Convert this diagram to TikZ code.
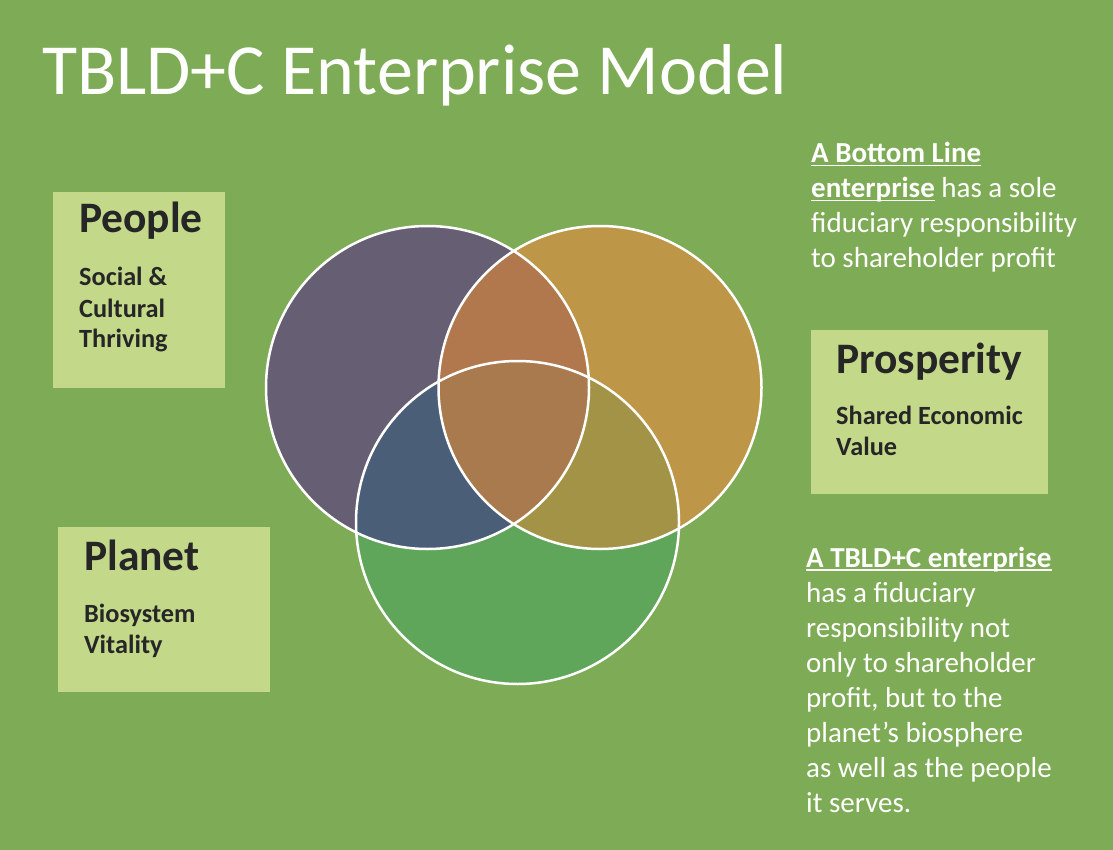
\documentclass[tikz,border=0pt]{standalone}
\usepackage{fontspec}
\setmainfont{Carlito}
\definecolor{slidegreen}{HTML}{7EAB55}
\definecolor{boxgreen}{HTML}{C4D88A}
\definecolor{inkgray}{HTML}{262626}
\definecolor{peoplefill}{HTML}{665F74}
\definecolor{prospfill}{HTML}{BE9647}
\definecolor{planetfill}{HTML}{5FA65B}
\definecolor{ppfill}{HTML}{B2784D}
\definecolor{plfill}{HTML}{4B5E78}
\definecolor{prfill}{HTML}{A39347}
\definecolor{allfill}{HTML}{A97A4D}
\newsavebox{\keybox}
\newcommand{\keyline}[1]{\sbox{\keybox}{#1}\rlap{\rule[-3.5pt]{\wd\keybox}{1.6pt}}\usebox{\keybox}}
\tikzset{
  labelbox/.style={fill=boxgreen, draw=none, anchor=north west, inner sep=0pt},
  headtxt/.style={anchor=base west, inner sep=0pt, text=inkgray, font=\bfseries\fontsize{43.5}{50}\selectfont},
  subtxt/.style={anchor=base west, inner sep=0pt, text=inkgray, font=\bfseries\fontsize{26.3}{31}\selectfont},
  notetxt/.style={anchor=base west, inner sep=0pt, text=white, font=\fontsize{29}{35}\selectfont},
  venn/.style={draw=white, line width=2.5pt}
}
\begin{document}
\begin{tikzpicture}[x=1pt,y=-1pt]
        \fill[slidegreen] (0,0) rectangle (1113,850);
        \useasboundingbox (0,0) rectangle (1113,850);

        \node[anchor=base west, inner sep=0pt, text=white, font=\fontsize{72}{80}\selectfont] (title) at (42,95) {TBLD+C Enterprise Model};

        \coordinate (cP) at (427.5,387.5);
        \coordinate (cR) at (600,387.5);
        \coordinate (cG) at (517.5,522.5);

        \fill[peoplefill] (cP) circle (161.5pt);
        \fill[prospfill]  (cR) circle (161.5pt);
        \fill[planetfill] (cG) circle (161.5pt);
        \begin{scope}
            \clip (cP) circle (161.5pt);
            \fill[ppfill] (cR) circle (161.5pt);
            \fill[plfill] (cG) circle (161.5pt);
        \end{scope}
        \begin{scope}
            \clip (cR) circle (161.5pt);
            \fill[prfill] (cG) circle (161.5pt);
            \clip (cP) circle (161.5pt);
            \fill[allfill] (cG) circle (161.5pt);
        \end{scope}
        \draw[venn] (cP) circle (161.5pt);
        \draw[venn] (cR) circle (161.5pt);
        \draw[venn] (cG) circle (161.5pt);

        \node[labelbox, minimum width=172pt, minimum height=196pt] (peoplebox) at (53,192) {};
        \node[headtxt] (people) at (79,233) {People};
        \node[subtxt] (social) at (79,286) {Social \&};
        \node[subtxt] (cultural) at (79,317) {Cultural};
        \node[subtxt] (thriving) at (79,347) {Thriving};

        \node[labelbox, minimum width=237pt, minimum height=164pt] (prospbox) at (811,330) {};
        \node[headtxt] (prosperity) at (836,373) {Prosperity};
        \node[subtxt] (shared) at (836,424) {Shared Economic};
        \node[subtxt] (value) at (836,455) {Value};

        \node[labelbox, minimum width=212pt, minimum height=165pt] (planetbox) at (58,527) {};
        \node[headtxt] (planet) at (84,570) {Planet};
        \node[subtxt] (biosystem) at (84,622) {Biosystem};
        \node[subtxt] (vitality) at (84,653) {Vitality};

        \foreach \t [count=\i] in {{\keyline{\bfseries A Bottom Line}},
            {\keyline{\bfseries enterprise} has a sole},
            {fiduciary responsibility},
            {to shareholder profit}}
            \node[notetxt] (bl\i) at (811,128+35*\i) {\t};

        \foreach \t [count=\i] in {{\keyline{\bfseries A TBLD+C enterprise}},
            {has a fiduciary},
            {responsibility not},
            {only to shareholder},
            {profit, but to the},
            {planet’s biosphere},
            {as well as the people},
            {it serves.}}
            \node[notetxt] (tb\i) at (806,532+35*\i) {\t};
\end{tikzpicture}
\end{document}
